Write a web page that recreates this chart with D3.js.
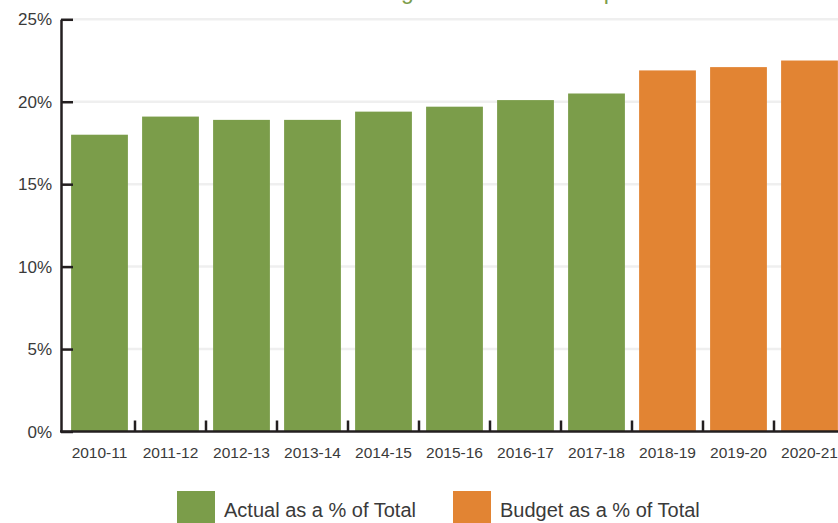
<!DOCTYPE html>
<html>
<head>
<meta charset="utf-8">
<script src="https://cdn.jsdelivr.net/npm/d3@7"></script>
<style>
  body { margin: 0; background: #fff; }
  svg { display: block; font-family: "Liberation Sans", Arial, sans-serif; }
</style>
</head>
<body>
<div id="chart"></div>
<script>
// data
var years = ["2010-11", "2011-12", "2012-13", "2013-14", "2014-15", "2015-16",
             "2016-17", "2017-18", "2018-19", "2019-20", "2020-21"];
var pctValues = [18.0, 19.1, 18.9, 18.9, 19.4, 19.7, 20.1, 20.5, 21.9, 22.1, 22.5];
var seriesType = ["Actual", "Actual", "Actual", "Actual", "Actual", "Actual",
                  "Actual", "Actual", "Budget", "Budget", "Budget"];
var yTicks = [0, 5, 10, 15, 20, 25];
var legendLabels = ["Actual as a % of Total", "Budget as a % of Total"];

var width = 838, height = 523;
var colors = { Actual: "#7b9d4a", Budget: "#e28433" };

var svg = d3.select("#chart").append("svg")
  .attr("width", width)
  .attr("height", height);

var x = d3.scaleBand()
  .domain(years)
  .range([64, 845])
  .paddingInner(0.2)
  .paddingOuter(0.1);

var y = d3.scaleLinear()
  .domain([0, 25])
  .range([431.5, 19.3]);

// title (mostly cut off above the picture)
svg.append("text")
  .attr("x", 222)
  .attr("y", -1)
  .attr("fill", "#7b9d4a")
  .style("font-size", "23px")
  .text("Education Funding as a % of Total Expenditure");

// gridlines
svg.append("g").selectAll("line")
  .data(yTicks.slice(1))
  .enter().append("line")
  .attr("x1", 62).attr("x2", width)
  .attr("y1", function(d) { return y(d); })
  .attr("y2", function(d) { return y(d); })
  .attr("stroke", "#efefef")
  .attr("stroke-width", 2.5);

// bars
svg.append("g").selectAll("rect")
  .data(years)
  .enter().append("rect")
  .attr("x", function(d) { return x(d); })
  .attr("width", x.bandwidth())
  .attr("y", function(d, i) { return y(pctValues[i]); })
  .attr("height", function(d, i) { return y(0) - y(pctValues[i]); })
  .attr("fill", function(d, i) { return colors[seriesType[i]]; });

// y axis
var yAxis = svg.append("g")
  .attr("transform", "translate(61,0)")
  .call(d3.axisRight(y).tickValues(yTicks).tickSize(12).tickSizeOuter(0).tickFormat(""));
yAxis.select(".domain").attr("stroke", "#231f20").attr("stroke-width", 2.5);
yAxis.selectAll(".tick line").attr("stroke", "#231f20").attr("stroke-width", 2.5);

svg.append("g").selectAll("text")
  .data(yTicks)
  .enter().append("text")
  .attr("x", 52)
  .attr("y", function(d) { return y(d) + 6; })
  .attr("text-anchor", "end")
  .attr("fill", "#3a3a3a")
  .style("font-size", "17px")
  .text(function(d) { return d + "%"; });

// x axis: baseline plus separators between categories
svg.append("line")
  .attr("x1", 60).attr("x2", width)
  .attr("y1", y(0)).attr("y2", y(0))
  .attr("stroke", "#231f20")
  .attr("stroke-width", 2.5);

var step = x.step();
svg.append("g").selectAll("line")
  .data(years.slice(1))
  .enter().append("line")
  .attr("x1", function(d) { return x(d) - step * x.paddingInner() / 2; })
  .attr("x2", function(d) { return x(d) - step * x.paddingInner() / 2; })
  .attr("y1", y(0) - 11)
  .attr("y2", y(0))
  .attr("stroke", "#231f20")
  .attr("stroke-width", 2.5);

svg.append("g").selectAll("text")
  .data(years)
  .enter().append("text")
  .attr("x", function(d) { return x(d) + x.bandwidth() / 2; })
  .attr("y", 457.5)
  .attr("text-anchor", "middle")
  .attr("fill", "#3a3a3a")
  .style("font-size", "15.5px")
  .text(function(d) { return d; });

// legend
var legend = svg.append("g").selectAll("g")
  .data(legendLabels)
  .enter().append("g")
  .attr("transform", function(d, i) { return "translate(" + [177, 453][i] + ",491)"; });

legend.append("rect")
  .attr("width", 38)
  .attr("height", 32)
  .attr("fill", function(d, i) { return colors[["Actual", "Budget"][i]]; });

legend.append("text")
  .attr("x", 47)
  .attr("y", 25.5)
  .attr("fill", "#3a3a3a")
  .style("font-size", "20px")
  .text(function(d) { return d; });
</script>
</body>
</html>
